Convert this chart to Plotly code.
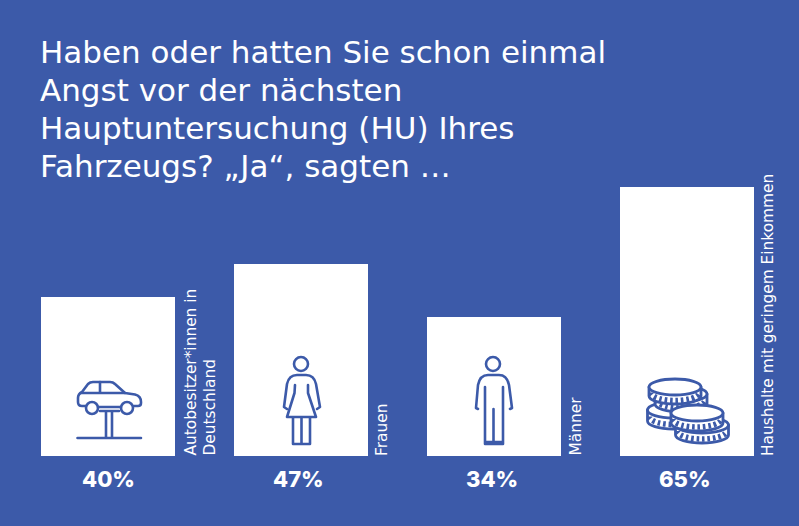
import base64
import plotly.graph_objects as go

W, H = 799, 526
BG = "#3c5aa9"

# values
categories = ["Autobesitzer*innen in<br>Deutschland", "Frauen", "Männer",
              "Haushalte mit geringem Einkommen"]
bar_lengths = [38.4, 46.4, 33.6, 65.0]   # drawn bar heights as they appear
value_labels = ["40%", "47%", "34%", "65%"]
title_lines = ["Haben oder hatten Sie schon einmal", "Angst vor der nächsten",
               "Hauptuntersuchung (HU) Ihres", "Fahrzeugs? „Ja“, sagten …"]


def coin(cx, cy, rx, ry, h):
    return (
        f'<path d="M{cx-rx},{cy} V{cy+h} A{rx},{ry} 0 0 0 {cx+rx},{cy+h} V{cy} Z" fill="#fff"/>'
        f'<path d="M{cx-rx+2},{cy+h/2+1} A{rx-2},{ry} 0 0 0 {cx+rx-2},{cy+h/2+1}" '
        f'fill="none" stroke-width="5.5" stroke-dasharray="2.6 2.8"/>'
        f'<ellipse cx="{cx}" cy="{cy}" rx="{rx}" ry="{ry}" fill="#fff"/>'
    )


icons = f'''<svg xmlns="http://www.w3.org/2000/svg" viewBox="0 0 {W} {H}" width="{W}" height="{H}">
<g fill="none" stroke="{BG}" stroke-width="2.6" stroke-linejoin="round" stroke-linecap="round">
<path d="M86,406 H82 Q78,406 78,402 V398 Q78,394 82,392 L88,384 Q90,382 93,382 H110 Q113,382 115,384 L125,393 L135,394.5 Q141,396 141,402 V403 Q141,406 138,406 H134"/>
<path d="M81,393 H125 M100,382 V393"/>
<circle cx="92" cy="408" r="6"/><circle cx="127" cy="408" r="6"/>
<path d="M98,407 H121 M100,411 H119 M106,411 V438 M112,411 V438 M77.5,438 H141"/>

<circle cx="301" cy="364" r="7"/>
<path d="M287,409 L284,407 L287,384 Q289,375 297,375 H306 Q314,375 316,384 L320,407 L317,409"/>
<path d="M295,385 L294.5,393 L287,417 H316 L308,393 L308,385"/>
<path d="M293,418 V444 H310 V418 M301.5,418 V444"/>

<circle cx="493" cy="364" r="7"/>
<path d="M478,409 L476,408 L478,385 Q480,375 488,375 H499 Q507,375 509,385 L512,408 L510,409"/>
<path d="M485,387 V444 H503 V387 M493.5,409 V444 M485,442 H503"/>
</g>
<g stroke="{BG}" stroke-width="2.8" stroke-linejoin="round">
{coin(673, 410, 25.5, 8, 11)}
{coin(681, 394, 26, 8, 10)}
{coin(675, 387, 26, 8, 9)}
{coin(702, 425, 26.5, 8, 10)}
{coin(697, 413, 26, 8, 10)}
</g></svg>'''
icon_uri = "data:image/svg+xml;base64," + base64.b64encode(icons.encode()).decode()

fig = go.Figure(go.Bar(
    x=categories, y=bar_lengths, width=134 / 193,
    marker=dict(color="white", line_width=0), hoverinfo="skip",
))

annotations = []
for line, py in zip(title_lines, [52, 90, 128, 166]):
    annotations.append(dict(
        text=line, x=38 / W, y=1 - py / H, xref="paper", yref="paper",
        xanchor="left", yanchor="middle", showarrow=False,
        font=dict(family="DejaVu Sans", size=31, color="white"),
    ))
for name, label, cx, rx, in zip(categories, value_labels, [108, 298, 492, 685],
                                [[190, 209], [382], [575], [768]]):
    annotations.append(dict(
        text=label, x=cx / W, y=1 - 479 / H, xref="paper", yref="paper",
        xanchor="center", yanchor="middle",
        showarrow=False, font=dict(family="Inter", size=22, color="white", weight=800),
    ))
    for part, px in zip(name.split("<br>"), rx):
        annotations.append(dict(
            text=part, x=px / W, y=1 - 458 / H, xref="paper", yref="paper",
            xanchor="center", yanchor="bottom", textangle=-90, showarrow=False,
            font=dict(family="DejaVu Sans", size=15.4, color="white"),
        ))

fig.update_layout(
    width=W, height=H, margin=dict(l=0, r=0, t=0, b=0), autosize=False,
    paper_bgcolor=BG, plot_bgcolor=BG, showlegend=False,
    xaxis=dict(visible=False, range=[-108 / 193, (W - 108) / 193]),
    yaxis=dict(visible=False, domain=[70 / H, 1], range=[0, 456 / 4.14]),
    annotations=annotations,
    images=[dict(source=icon_uri, xref="paper", yref="paper", x=0, y=1, sizex=1, sizey=1,
                 xanchor="left", yanchor="top", sizing="stretch", layer="above")],
)
fig.write_html("out.html", config=dict(displayModeBar=False),
               post_script="document.body.style.margin='0';document.body.style.overflow='hidden';"
                           "document.body.style.background='" + BG + "';")
